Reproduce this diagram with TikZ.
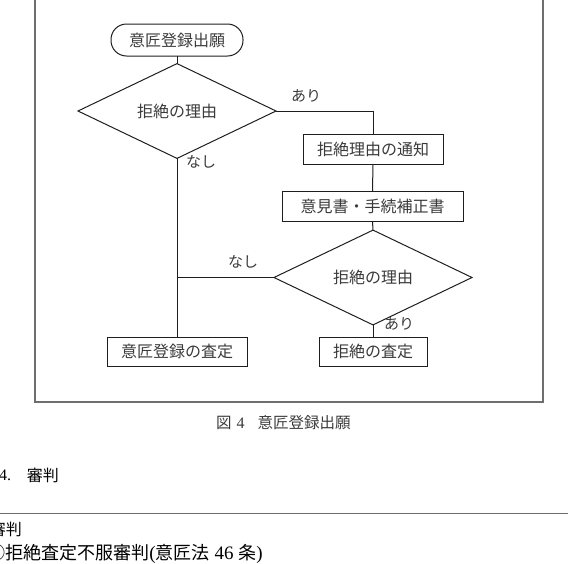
\documentclass[tikz,border=0pt]{standalone}
\usepackage{fontspec}
\setmainfont{Liberation Serif}
\newfontfamily\jp{Noto Sans CJK JP}
\usetikzlibrary{shapes.geometric}
\definecolor{ln}{HTML}{1E1E1E}
\definecolor{txt}{HTML}{3A3A3A}
\definecolor{framec}{HTML}{6E6E6E}
\begin{document}
\begin{tikzpicture}[x=1pt,y=-1pt,
  every node/.style={inner sep=0pt, outer sep=0pt},
  lbl/.style={font=\jp\fontsize{16}{16}\selectfont, text=txt},
  small/.style={font=\jp\fontsize{15}{15}\selectfont, text=txt},
  procbox/.style={draw=ln, line width=1pt, rectangle, minimum height=30pt, lbl},
  decide/.style={draw=ln, line width=1pt, diamond, minimum width=198pt, minimum height=70pt, lbl},
  startbox/.style={draw=ln, line width=1pt, rectangle, rounded corners=15.5pt, minimum width=132pt, minimum height=32pt, lbl},
  conn/.style={draw=ln, line width=1pt},
  body/.style={font=\jp\fontsize{18}{18}\selectfont, text=black},
  head/.style={font=\jp\fontsize{16}{16}\selectfont, text=black}]
\clip (0,0) rectangle (568,563);
\useasboundingbox (0,0) rectangle (568,563);
% frame
\draw[framec, line width=1.6pt] (35,-10) rectangle (543,402);
% nodes
\node[startbox] (start) at (177,40) {意匠登録出願};
\node[decide] (d1) at (177,111) {拒絶の理由};
\node[procbox, minimum width=140pt] (notice) at (373,149) {拒絶理由の通知};
\node[procbox, minimum width=181pt] (opinion) at (372.5,206) {意見書・手続補正書};
\node[decide, minimum height=69pt] (d2) at (373,277.5) {拒絶の理由};
\node[procbox, minimum width=140pt, minimum height=29pt] (grant) at (177,351.5) {意匠登録の査定};
\node[procbox, minimum width=108pt, minimum height=29pt] (reject) at (373,351.5) {拒絶の査定};
% connectors
\draw[conn] (start.south) -- (d1.north);
\draw[conn] (d1.east) -| (notice.north);
\draw[conn] (notice.south) -- (opinion.north);
\draw[conn] (opinion.south) -- (d2.north);
\draw[conn] (d1.south) -- (grant.north);
\coordinate (join) at (d2.west -| grant.north);
\draw[conn] (d2.west) -- (join);
\draw[conn] (d2.south) -- (reject.north);
% labels
\node[small] (l1) at (306,96) {あり};
\node[small] (l2) at (201,162) {なし};
\node[small] (l3) at (243,262) {なし};
\node[small] (l4) at (399,324) {あり};
% caption
\node[lbl, font=\jp\fontsize{15.5}{15.5}\selectfont, anchor=west] (cap) at (216,423) {図\hspace{5pt}{\rmfamily\fontsize{16}{16}\selectfont 4}\hspace{13pt}意匠登録出願};
% text below
\node[head, anchor=west] (secno) at (-1,475) {{\rmfamily\fontsize{16}{16}\selectfont 4.}};
\node[head, anchor=west] (sec) at (27,475) {審判};
\draw[framec, line width=1.2pt] (0,513.5) -- (568,513.5);
\node[head, anchor=east] (sub) at (22,529) {審判};
\node[body, anchor=west] (item) at (-12.5,554) {①拒絶査定不服審判{\rmfamily\fontsize{19}{19}\selectfont (}意匠法{\rmfamily\fontsize{19}{19}\selectfont\ 46\ }条{\rmfamily\fontsize{19}{19}\selectfont )}};
\end{tikzpicture}
\end{document}
